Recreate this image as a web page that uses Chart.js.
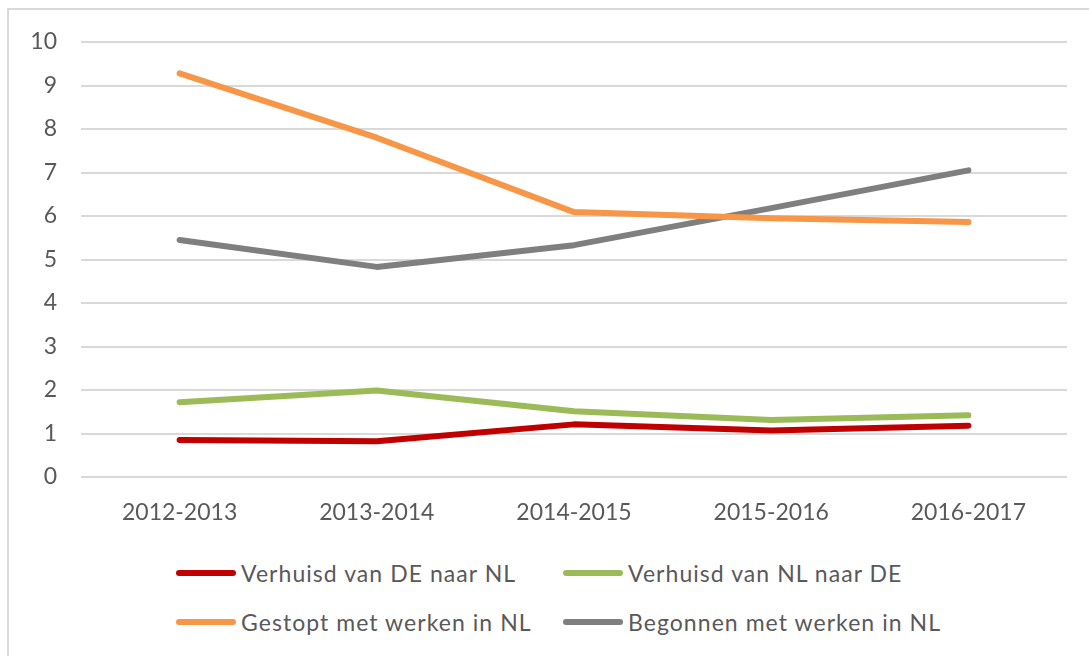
<!DOCTYPE html>
<html>
<head>
<meta charset="utf-8">
<script src="https://cdn.jsdelivr.net/npm/chart.js@4/dist/chart.umd.min.js"></script>
<style>
  html, body { margin: 0; padding: 0; background: #fff; overflow: hidden; }
  #wrap { position: relative; width: 1089px; height: 656px; overflow: hidden; font-family: Lato, sans-serif; }
  #frame { position: absolute; left: 7px; top: 8px; width: 1200px; height: 800px; border: 2px solid #d9d9d9; box-sizing: border-box; }
  #chart { position: absolute; left: 0; top: 0; }
  .leg { position: absolute; display: flex; align-items: center; color: #595959; font-size: 23px; letter-spacing: 1.05px; white-space: nowrap; }
  .leg span.ln { display: inline-block; width: 60px; height: 6px; border-radius: 3px; margin-right: 5px; }
</style>
</head>
<body>
<div id="wrap">
  <div id="frame"></div>
  <canvas id="chart" width="1089" height="545"></canvas>
  <div id="legend"></div>
</div>
<script>
// Jaren
const periods = ["2012-2013", "2013-2014", "2014-2015", "2015-2016", "2016-2017"];

// Waarden per reeks
const deNaarNl = [0.85, 0.82, 1.21, 1.07, 1.18];
const nlNaarDe = [1.72, 1.99, 1.51, 1.31, 1.42];
const gestopt = [9.28, 7.8, 6.09, 5.95, 5.86];
const begonnen = [5.45, 4.83, 5.33, 6.18, 7.05];

const seriesNames = [
    "Verhuisd van DE naar NL",
    "Verhuisd van NL naar DE",
    "Gestopt met werken in NL",
    "Begonnen met werken in NL"
];
const seriesColors = ["#c00000", "#9bbb59", "#f79646", "#7f7f7f"];

const yTicks = [0, 1, 2, 3, 4, 5, 6, 7, 8, 9, 10];

document.addEventListener("DOMContentLoaded", function () {
    const chart = renderChart();
    renderLegend(chart);
});

// Teken de lijngrafiek
function renderChart() {
    const ctx = document.getElementById("chart").getContext("2d");
    const allData = [deNaarNl, nlNaarDe, gestopt, begonnen];

    return new Chart(ctx, {
        type: "line",
        data: {
            labels: periods,
            datasets: allData.map((d, i) => ({
                label: seriesNames[i],
                data: d,
                borderColor: seriesColors[i],
                backgroundColor: seriesColors[i],
                borderWidth: 6,
                borderCapStyle: "round",
                borderJoinStyle: "round",
                pointRadius: 0,
                tension: 0,
                fill: false
            }))
        },
        options: {
            responsive: false,
            animation: false,
            layout: { padding: { left: 0, right: 22, top: 42, bottom: 0 } },
            plugins: {
                legend: { display: false },
                tooltip: { enabled: false }
            },
            scales: {
                x: {
                    offset: true,
                    grid: { display: false, drawTicks: false },
                    border: { display: false },
                    ticks: {
                        color: "#595959",
                        font: { family: "Lato", size: 23 },
                        padding: 22,
                        maxRotation: 0
                    },
                    afterFit: s => { s.height = 68; }
                },
                y: {
                    min: 0,
                    max: 10,
                    afterBuildTicks: s => { s.ticks = yTicks.map(v => ({ value: v })); },
                    grid: { color: "#d9d9d9", lineWidth: 2, drawTicks: false },
                    border: { display: false },
                    ticks: {
                        color: "#595959",
                        font: { family: "Lato", size: 23 },
                        padding: 24
                    },
                    afterFit: s => { s.width = 81; }
                }
            }
        }
    });
}

// Legenda in twee kolommen
function renderLegend(chart) {
    const legend = document.getElementById("legend");
    const cols = [176, 563];
    const rows = [573, 622];
    chart.data.datasets.forEach((ds, i) => {
        const item = document.createElement("div");
        item.className = "leg";
        item.style.left = cols[i % 2] + "px";
        item.style.top = (rows[Math.floor(i / 2)] - 15) + "px";
        item.style.height = "30px";
        item.innerHTML = `<span class="ln" style="background:${ds.borderColor}"></span>${ds.label}`;
        legend.appendChild(item);
    });
}
</script>
</body>
</html>
